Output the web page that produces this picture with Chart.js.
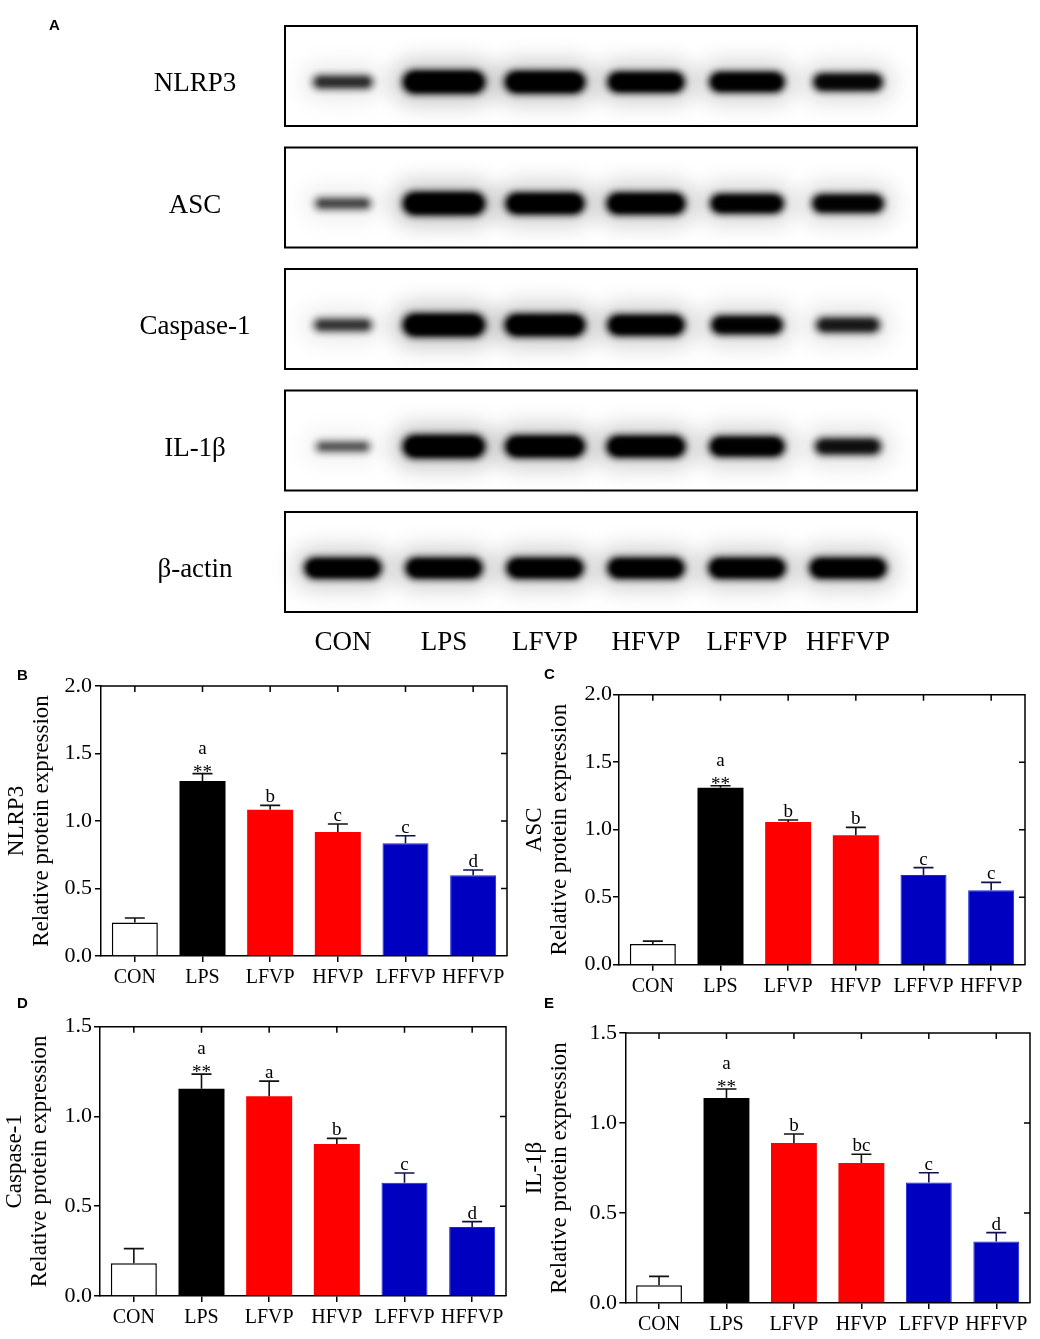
<!DOCTYPE html>
<html><head><meta charset="utf-8">
<script src="https://cdn.jsdelivr.net/npm/chart.js@4.4.1/dist/chart.umd.min.js"></script>
<style>
html,body{margin:0;padding:0;background:#fff;}
body{width:1040px;height:1339px;position:relative;overflow:hidden;}
.c{position:absolute;}
.lbl{position:absolute;font-family:"Liberation Sans",Arial,sans-serif;font-weight:bold;font-size:15px;color:#000;line-height:1;}
</style></head><body>
<div class="c" style="left:0;top:0;width:1040px;height:670px"><canvas id="blot"></canvas></div>
<div class="c" style="left:0;top:660px;width:520px;height:340px"><canvas id="cB"></canvas></div>
<div class="c" style="left:520px;top:660px;width:520px;height:340px"><canvas id="cC"></canvas></div>
<div class="c" style="left:0;top:1000px;width:520px;height:339px"><canvas id="cD"></canvas></div>
<div class="c" style="left:520px;top:1000px;width:520px;height:339px"><canvas id="cE"></canvas></div>
<div class="lbl" style="left:49px;top:17px">A</div>
<div class="lbl" style="left:17px;top:667px">B</div>
<div class="lbl" style="left:544px;top:666px">C</div>
<div class="lbl" style="left:17px;top:995px">D</div>
<div class="lbl" style="left:544px;top:995px">E</div>
<script>
// ---------- data ----------
const groups = ['CON', 'LPS', 'LFVP', 'HFVP', 'LFFVP', 'HFFVP'];
const proteins = ['NLRP3', 'ASC', 'Caspase-1', 'IL-1β', 'β-actin'];

// western blot band intensity (0..1) per lane
const bandNLRP3 = [0.4, 1.0, 0.95, 0.85, 0.8, 0.65];
const bandASC = [0.3, 1.0, 0.9, 0.9, 0.75, 0.7];
const bandCasp1 = [0.36, 1.0, 0.95, 0.85, 0.7, 0.5];
const bandIL1b = [0.25, 1.0, 0.93, 0.9, 0.8, 0.56];
const bandActin = [0.85, 0.85, 0.85, 0.85, 0.85, 0.85];

// relative protein expression (mean, error)
const nlrp3Mean = [0.249, 1.296, 1.084, 0.918, 0.835, 0.598];
const nlrp3Err  = [0.032, 0.055, 0.032, 0.060, 0.056, 0.039];
const nlrp3Sig  = ['', 'a', 'b', 'c', 'c', 'd'];

const ascMean = [0.153, 1.311, 1.057, 0.958, 0.664, 0.551];
const ascErr  = [0.022, 0.015, 0.015, 0.059, 0.055, 0.059];
const ascSig  = ['', 'a', 'b', 'b', 'c', 'c'];

const casp1Mean = [0.182, 1.155, 1.112, 0.846, 0.631, 0.384];
const casp1Err  = [0.082, 0.081, 0.085, 0.032, 0.054, 0.030];
const casp1Sig  = ['', 'a', 'a', 'b', 'c', 'd'];

const il1bMean = [0.098, 1.139, 0.889, 0.778, 0.669, 0.341];
const il1bErr  = [0.050, 0.050, 0.050, 0.048, 0.055, 0.050];
const il1bSig  = ['', 'a', 'b', 'bc', 'c', 'd'];

const starMarks = ['', '**', '', '', '', ''];
const yTicks15 = [0, 0.5, 1.0, 1.5];
const yTicks20 = [0, 0.5, 1.0, 1.5, 2.0];

// ---------- styles ----------
const SERIF = '"Liberation Serif", "Times New Roman", serif';
const barFill = ['#ffffff', '#000000', '#ff0000', '#ff0000', '#0000c0', '#0000c0'];
const barEdge = ['#000000', '#000000', '#ff0000', '#ff0000', '#1428d8', '#1428d8'];
const barEdgeW = [1.5, 0, 0, 0, 1, 1];

// ---------- blot ----------
const bandRows = [bandNLRP3, bandASC, bandCasp1, bandIL1b, bandActin];
const blotPoints = [];
bandRows.forEach((row, r) => row.forEach((s, i) => blotPoints.push({x: i, y: r, s: s})));

function pill(ctx, x, y, w, h) {
  const r = h / 2;
  ctx.beginPath();
  ctx.moveTo(x + r, y);
  ctx.lineTo(x + w - r, y);
  ctx.arc(x + w - r, y + r, r, -Math.PI / 2, Math.PI / 2);
  ctx.lineTo(x + r, y + h);
  ctx.arc(x + r, y + r, r, Math.PI / 2, Math.PI * 1.5);
  ctx.closePath();
}

const blotPlugin = {
  id: 'blotDraw',
  afterDatasetsDraw(chart) {
    const {ctx, scales: {x, y}} = chart;
    const left = x.getPixelForValue(x.min), right = x.getPixelForValue(x.max);
    ctx.save();
    const meta = chart.getDatasetMeta(0);
    meta.data.forEach((el, i) => {
      const s = blotPoints[i].s;
      const cx = el.x, cy = el.y + 6;
      const w = 48 + 36 * s, h = 9 + 15 * s;
      ctx.fillStyle = '#000';
      ctx.filter = 'blur(11px)';
      ctx.globalAlpha = 0.22 * s;
      pill(ctx, cx - w / 2 - 10, cy - h / 2 - 10, w + 20, h + 20);
      ctx.fill();
      ctx.filter = 'blur(3.5px)';
      ctx.globalAlpha = Math.min(1, 0.2 + 1.1 * s);
      pill(ctx, cx - w / 2, cy - h / 2, w, h);
      ctx.fill();
      ctx.filter = 'blur(2px)';
      ctx.globalAlpha = Math.min(1, 0.1 + 1.0 * s);
      pill(ctx, cx - w / 2 + 5, cy - h / 2 + 3, w - 10, h - 6);
      ctx.fill();
    });
    ctx.filter = 'none';
    ctx.globalAlpha = 1;
    ctx.strokeStyle = '#000';
    ctx.lineWidth = 2;
    ctx.fillStyle = '#000';
    ctx.font = '27px ' + SERIF;
    ctx.textAlign = 'center';
    ctx.textBaseline = 'middle';
    proteins.forEach((p, r) => {
      const cy = y.getPixelForValue(r);
      ctx.strokeRect(left, cy - 50, right - left, 100);
      ctx.fillText(p, left - 90, cy + 8);
    });
    const lastRow = y.getPixelForValue(proteins.length - 1);
    groups.forEach((g, i) => {
      ctx.fillText(g, x.getPixelForValue(i), lastRow + 81);
    });
    ctx.restore();
  }
};

new Chart(document.getElementById('blot'), {
  type: 'scatter',
  data: {datasets: [{data: blotPoints, pointRadius: 0, pointHoverRadius: 0}]},
  options: {
    responsive: true, maintainAspectRatio: false, animation: false,
    layout: {padding: {left: 285, right: 123, top: 15.25, bottom: 47.25}},
    plugins: {legend: {display: false}, tooltip: {enabled: false}},
    events: [],
    scales: {
      x: {type: 'linear', display: false, min: -0.574, max: 5.683},
      y: {type: 'linear', display: false, min: -0.5, max: 4.5, reverse: true}
    }
  },
  plugins: [blotPlugin]
});

// ---------- bar charts ----------
const framePlugin = {
  id: 'frameTicks',
  afterDraw(chart) {
    const {ctx, chartArea: a, scales: {x, y}} = chart;
    ctx.save();
    ctx.strokeStyle = '#000';
    ctx.lineWidth = 1.5;
    ctx.beginPath();
    ctx.moveTo(a.left, a.top);
    ctx.lineTo(a.right, a.top);
    ctx.lineTo(a.right, a.bottom);
    x.ticks.forEach((t, i) => {
      const px = x.getPixelForValue(i);
      ctx.moveTo(px, a.top);
      ctx.lineTo(px, a.top + 6);
    });
    y.ticks.forEach(t => {
      if (t.value > y.min && t.value < y.max) {
        const py = y.getPixelForValue(t.value);
        ctx.moveTo(a.right, py);
        ctx.lineTo(a.right - 6, py);
      }
    });
    ctx.stroke();
    ctx.restore();
  }
};

const errPlugin = {
  id: 'errSig',
  afterDatasetsDraw(chart, args, opts) {
    const {ctx, scales: {y}} = chart;
    const meta = chart.getDatasetMeta(0);
    const means = chart.data.datasets[0].data;
    ctx.save();
    ctx.fillStyle = '#000';
    ctx.textAlign = 'center';
    ctx.textBaseline = 'alphabetic';
    meta.data.forEach((bar, i) => {
      const top = y.getPixelForValue(means[i] + opts.err[i]);
      ctx.strokeStyle = i >= 4 ? '#101050' : '#111';
      ctx.lineWidth = 1.6;
      ctx.beginPath();
      ctx.moveTo(bar.x, bar.y);
      ctx.lineTo(bar.x, top);
      ctx.moveTo(bar.x - 10, top);
      ctx.lineTo(bar.x + 10, top);
      ctx.stroke();
      ctx.font = '19px ' + SERIF;
      if (opts.stars[i]) {
        ctx.fillText(opts.stars[i], bar.x, top + 4);
        ctx.fillText(opts.sig[i], bar.x, top - 20);
      } else if (opts.sig[i]) {
        ctx.fillText(opts.sig[i], bar.x, top - 3);
      }
    });
    ctx.restore();
  }
};

function barChart(id, name, means, errs, sig, tickVals, geo) {
  const ymax = tickVals[tickVals.length - 1];
  return new Chart(document.getElementById(id), {
    type: 'bar',
    data: {
      labels: groups,
      datasets: [{
        data: means,
        backgroundColor: barFill,
        borderColor: barEdge,
        borderWidth: barEdgeW,
        borderSkipped: 'bottom',
        barPercentage: 0.68,
        categoryPercentage: 1.0
      }]
    },
    options: {
      responsive: true, maintainAspectRatio: false, animation: false,
      events: [],
      layout: {padding: {top: geo.top, right: geo.right, left: 0, bottom: 0}},
      plugins: {legend: {display: false}, tooltip: {enabled: false},
        errSig: {err: errs, sig: sig, stars: starMarks}},
      scales: {
        x: {
          type: 'category', offset: true,
          grid: {offset: false, drawOnChartArea: false, drawTicks: true, tickLength: 6, color: '#000', lineWidth: 1.5},
          border: {display: true, color: '#000', width: 1.5},
          ticks: {color: '#000', font: {family: SERIF, size: 20}, padding: geo.xpad, maxRotation: 0, autoSkip: false},
          afterFit: s => { s.height = geo.xh; }
        },
        y: {
          min: 0, max: ymax,
          afterBuildTicks: s => { s.ticks = tickVals.map(v => ({value: v})); },
          ticks: {color: '#000', font: {family: SERIF, size: 22}, padding: geo.tpad, callback: v => Number(v).toFixed(1)},
          grid: {drawOnChartArea: false, drawTicks: true, tickLength: 6, color: '#000', lineWidth: 1.5},
          border: {display: true, color: '#000', width: 1.5},
          title: {display: true, text: [name, 'Relative protein expression'], color: '#000',
            font: {family: SERIF, size: 23, lineHeight: 1.1}, padding: {top: geo.titlePad, bottom: 0}},
          afterFit: s => { s.width = geo.yw; }
        }
      }
    },
    plugins: [framePlugin, errPlugin]
  });
}

barChart('cB', 'NLRP3', nlrp3Mean, nlrp3Err, nlrp3Sig, yTicks20,
  {top: 26, right: 13, xh: 44, yw: 101, tpad: 3, xpad: 4, titlePad: 4.3});
barChart('cC', 'ASC', ascMean, ascErr, ascSig, yTicks20,
  {top: 34.7, right: 15, xh: 35.3, yw: 99, tpad: 1, xpad: 4, titlePad: 2.3});
barChart('cD', 'Caspase-1', casp1Mean, casp1Err, casp1Sig, yTicks15,
  {top: 26.7, right: 14, xh: 43, yw: 100, tpad: 2, xpad: 4, titlePad: 2.3});
barChart('cE', 'IL-1β', il1bMean, il1bErr, il1bSig, yTicks15,
  {top: 33, right: 10, xh: 36, yw: 105.3, tpad: 2.3, xpad: 4, titlePad: 2.3});
</script>
</body></html>
